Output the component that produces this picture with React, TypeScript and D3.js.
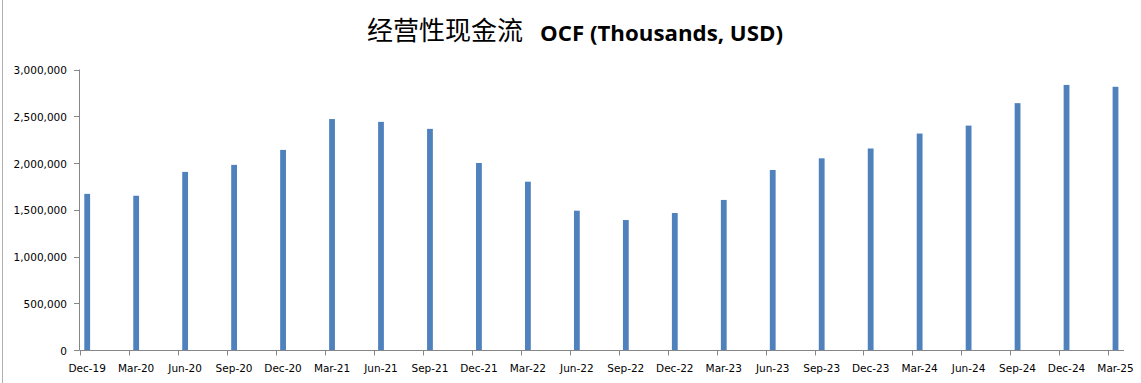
import React from "react";
import * as d3 from "d3";

const categories = [
  "Dec-19", "Mar-20", "Jun-20", "Sep-20", "Dec-20", "Mar-21", "Jun-21", "Sep-21",
  "Dec-21", "Mar-22", "Jun-22", "Sep-22", "Dec-22", "Mar-23", "Jun-23", "Sep-23",
  "Dec-23", "Mar-24", "Jun-24", "Sep-24", "Dec-24", "Mar-25",
];
const ocfValues = [
  1670000, 1650000, 1905000, 1980000, 2140000, 2470000, 2440000, 2365000,
  2000000, 1800000, 1490000, 1390000, 1465000, 1605000, 1925000, 2050000,
  2155000, 2315000, 2400000, 2640000, 2835000, 2815000,
];
const yTicks = [0, 500000, 1000000, 1500000, 2000000, 2500000, 3000000];
const titleCn = "经营性现金流";
const titleEn = "OCF (Thousands, USD)";

const W = 1141;
const H = 383;

export default function App() {
  const x = d3.scaleLinear().domain([0, categories.length - 1]).range([80, 1108.3]);
  const y = d3.scaleLinear().domain([0, 3000000]).range([350, 69.5]);
  const fmt = d3.format(",");
  const axisColor = "#868686";
  const barColor = "#4F81BD";
  const barOffset = 4.3;
  const barW = 5.8;

  return (
    <svg
      width={W}
      height={H}
      style={{ position: "absolute", left: 0, top: 0, background: "#fff" }}
    >
      <rect x={0} y={0} width={W} height={H} fill="#fff" />
      {/* chart frame left edge */}
      <line x1={2.5} x2={2.5} y1={0} y2={H} stroke="#b0b0b0" strokeWidth={1} />

      {/* title */}
      <text
        x={367}
        y={40}
        fontFamily="'Noto Sans CJK SC', sans-serif"
        fontSize={26}
        fill="#000"
      >
        {titleCn}
      </text>
      <text
        x={540}
        y={41}
        fontFamily="'Open Sans', sans-serif"
        fontWeight="bold"
        fontSize={22}
        textLength={243}
        lengthAdjust="spacingAndGlyphs"
        fill="#000"
      >
        {titleEn}
      </text>

      {/* bars */}
      {ocfValues.map((v, i) => (
        <rect
          key={categories[i]}
          x={x(i) + barOffset}
          y={y(v)}
          width={barW}
          height={y(0) - y(v)}
          fill={barColor}
        />
      ))}

      {/* y axis */}
      <line x1={79.5} x2={79.5} y1={y(3000000)} y2={y(0)} stroke={axisColor} />
      {yTicks.map((t) => (
        <g key={t}>
          <line x1={74} x2={79.5} y1={Math.round(y(t)) + 0.5} y2={Math.round(y(t)) + 0.5} stroke={axisColor} />
          <text
            x={67}
            y={y(t) + 4.5}
            textAnchor="end"
            fontFamily="'DejaVu Sans', sans-serif"
            fontSize={10.5}
            fill="#000"
          >
            {fmt(t)}
          </text>
        </g>
      ))}

      {/* x axis */}
      <line x1={79.5} x2={1124} y1={350.5} y2={350.5} stroke={axisColor} />
      {categories.map((c, i) => (
        <g key={c}>
          <line
            x1={Math.round(x(i)) + 0.5}
            x2={Math.round(x(i)) + 0.5}
            y1={350.5}
            y2={355.5}
            stroke={axisColor}
          />
          <text
            x={x(i) + barOffset + barW / 2}
            y={371.5}
            textAnchor="middle"
            fontFamily="'DejaVu Sans', sans-serif"
            fontSize={10.5}
            fill="#000"
          >
            {c}
          </text>
        </g>
      ))}
    </svg>
  );
}
